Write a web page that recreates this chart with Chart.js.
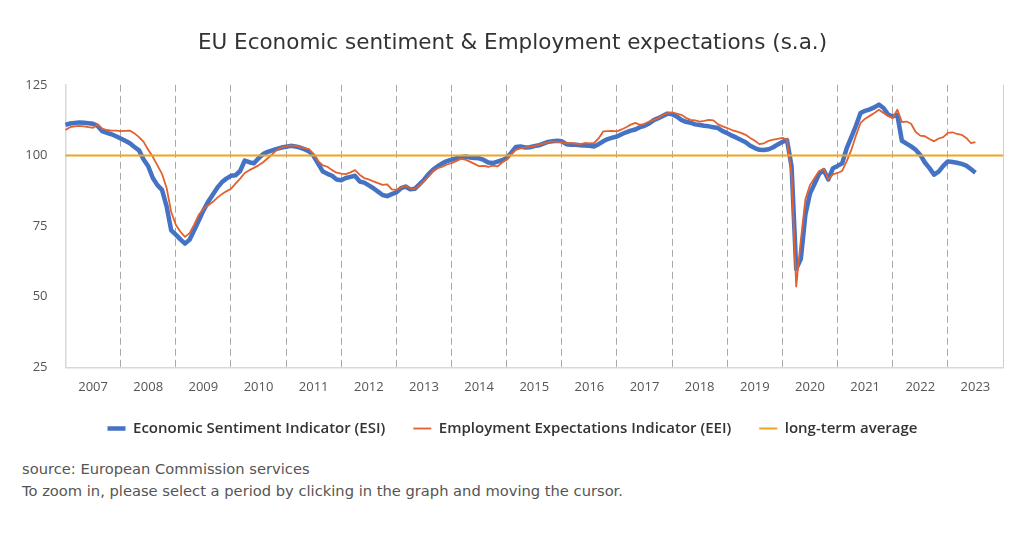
<!DOCTYPE html>
<html>
<head>
<meta charset="utf-8">
<script src="https://cdn.jsdelivr.net/npm/chart.js@4.4.0/dist/chart.umd.min.js"></script>
<style>
  body { margin: 0; background: #fff; }
  #wrap { position: relative; width: 1024px; height: 541px; }
  #box { position: absolute; left: 0; top: 0; width: 1024px; height: 446px; }
  #note { position: absolute; left: 22px; top: 458px; font: 14.7px "DejaVu Sans", sans-serif; color: #555; line-height: 22px; }
</style>
</head>
<body>
<div id="wrap">
  <div id="box"><canvas id="myChart"></canvas></div>
  <div id="note">source: European Commission services<br>To zoom in, please select a period by clicking in the graph and moving the cursor.</div>
</div>
<script>
// monthly values, Jan 2007 .. Jul 2023
var esi = [
  110.8, 111.3, 111.5, 111.7, 111.6, 111.4, 111.2, 110.4, 108.6, 108.0, 107.5, 106.8,
  106.0, 105.2, 104.3, 103.0, 101.8, 98.6, 96.2, 92.0, 89.5, 87.8, 82.0, 73.5,
  72.0, 70.3, 68.8, 70.2, 73.5, 77.0, 80.5, 83.5, 86.0, 88.5, 90.5, 91.8,
  92.8, 93.0, 94.5, 98.2, 97.6, 97.2, 99.0, 100.5, 101.3, 101.8, 102.3, 102.8,
  103.1, 103.4, 103.2, 102.8, 102.2, 101.4, 99.8, 97.0, 94.3, 93.5, 92.8, 91.5,
  91.2, 92.0, 92.4, 92.8, 90.8, 90.4, 89.4, 88.4, 87.2, 86.0, 85.6, 86.3,
  86.9, 88.4, 89.0, 88.0, 88.2, 89.8, 91.4, 93.4, 95.0, 96.2, 97.2, 98.0,
  98.5, 99.0, 99.4, 99.6, 99.3, 99.1, 99.0, 98.4, 97.5, 97.3, 97.8, 98.3,
  99.1, 101.0, 103.0, 103.2, 102.8, 102.9, 103.3, 103.6, 104.2, 104.8, 105.0, 105.2,
  105.0, 104.0, 103.8, 103.8, 103.6, 103.5, 103.4, 103.2, 104.0, 105.0, 105.8, 106.3,
  106.7, 107.5, 108.2, 108.8, 109.2, 110.0, 110.5, 111.3, 112.5, 113.2, 114.0, 114.8,
  114.6, 113.8, 112.6, 111.9, 111.6, 111.0, 110.8, 110.5, 110.3, 110.0, 109.7, 108.6,
  107.9, 107.0, 106.3, 105.5, 104.7, 103.4, 102.6, 102.0, 101.9, 102.2, 102.9, 103.9,
  104.8, 105.4, 96.0, 59.8, 63.3, 79.0, 86.5, 90.0, 93.5, 94.8, 91.5, 95.5,
  96.3, 97.2, 102.6, 106.5, 110.5, 115.0, 115.8, 116.3, 117.0, 118.0, 116.8, 114.5,
  113.8, 114.4, 105.2, 104.2, 103.2, 102.0, 100.2, 97.5, 95.5, 93.2, 94.3, 96.3,
  97.9, 97.7, 97.4, 97.0, 96.4, 95.2, 93.9
];
var eei = [
  109.0, 110.0, 110.3, 110.5, 110.3, 110.0, 109.8, 111.0, 109.5, 109.0, 108.8, 108.8,
  108.6, 108.7, 108.8, 107.8, 106.5, 104.8, 102.0, 99.5, 96.5, 93.5, 88.5, 80.0,
  75.5, 73.0, 71.2, 72.5, 75.5, 79.0, 81.0, 82.3, 83.5, 85.0, 86.3, 87.3,
  88.2, 90.0, 91.8, 93.8, 94.8, 95.6, 96.5, 97.6, 99.0, 100.5, 102.0, 102.8,
  103.2, 103.6, 103.4, 103.0, 102.6, 102.2, 100.5, 98.0, 96.5, 96.0, 94.8, 93.9,
  93.6, 93.4, 94.0, 94.8, 93.2, 92.0, 91.5, 90.8, 90.2, 89.6, 89.8, 88.0,
  87.8, 88.6, 89.2, 88.4, 88.1, 89.5, 91.0, 92.5, 94.5, 95.5, 96.0, 96.8,
  97.3, 98.0, 98.8, 98.5, 97.8, 97.0, 96.2, 96.3, 96.0, 96.4, 96.1, 97.5,
  98.5, 100.5, 102.0, 102.5, 102.8, 103.0, 103.3, 103.8, 104.2, 104.6, 105.0, 104.8,
  104.6, 104.3, 104.4, 104.2, 104.0, 104.4, 104.3, 104.4, 106.0, 108.5, 108.6, 108.7,
  108.5, 109.2, 110.0, 110.9, 111.5, 110.8, 111.2, 112.0, 112.6, 113.2, 114.3, 115.0,
  115.2, 114.8, 114.4, 113.3, 112.6, 112.4, 112.0, 112.2, 112.6, 112.4, 111.0, 110.3,
  109.7, 109.0, 108.5, 108.0, 107.3, 106.2, 105.2, 104.0, 104.3, 105.2, 105.6, 105.9,
  106.2, 105.6, 93.0, 53.6, 70.0, 84.5, 89.5, 92.0, 94.5, 95.3, 91.5, 93.3,
  93.8, 94.5, 98.0, 102.0, 107.0, 111.5, 113.0, 114.0, 115.0, 116.2, 115.0, 114.0,
  113.2, 116.2, 111.8, 112.0, 111.2, 108.3, 107.0, 106.8, 105.8, 105.0, 106.0, 106.5,
  108.0, 108.2, 107.6, 107.3, 106.2, 104.4, 104.7
];
var longTermAvg = 100;
var firstYear = 2007;
var lastYear = 2023;
var yTicks = [25, 50, 75, 100, 125];

// one label per month, Jan 2007 .. Jan 2024 (last one is the right edge)
var monthLabels = [];
for (var y = firstYear; y <= lastYear; y++) {
    for (var m = 1; m <= 12; m++) {
        monthLabels.push(y + '-' + (m < 10 ? '0' + m : m));
    }
}
monthLabels.push((lastYear + 1) + '-01');
var lastIdx = monthLabels.length - 1;

var avgLine = monthLabels.map(function () { return longTermAvg; });

var ctx = document.getElementById("myChart");
var myChart = new Chart(ctx, {
    type: 'line',
    data: {
        labels: monthLabels,
        datasets: [{
            label: 'Economic Sentiment Indicator (ESI)',
            data: esi,
            borderColor: '#4472c4',
            backgroundColor: '#4472c4',
            borderWidth: 4.5,
            order: 2
        },
        {
            label: 'Employment Expectations Indicator (EEI)',
            data: eei,
            borderColor: '#e2612f',
            backgroundColor: '#e2612f',
            borderWidth: 1.8,
            order: 1
        },
        {
            label: 'long-term average',
            data: avgLine,
            borderColor: '#eba520',
            backgroundColor: '#eba520',
            borderWidth: 2,
            order: 0
        }]
    },
    options: {
        responsive: true,
        maintainAspectRatio: false,
        animation: false,
        elements: { point: { radius: 0, hoverRadius: 0 }, line: { tension: 0, borderJoinStyle: 'round' } },
        layout: { padding: { left: 22, right: 21, bottom: 0 } },
        plugins: {
            title: {
                display: true,
                text: 'EU Economic sentiment & Employment expectations (s.a.)',
                color: '#333',
                font: { family: 'DejaVu Sans', size: 21.5, weight: 'normal' },
                padding: { top: 31, bottom: 28 }
            },
            legend: {
                position: 'bottom',
                labels: {
                    usePointStyle: true,
                    pointStyle: 'line',
                    pointStyleWidth: 18,
                    padding: 28,
                    color: '#333',
                    font: { family: 'Open Sans', size: 15, weight: '600' },
                    sort: function (a, b) { return a.datasetIndex - b.datasetIndex; }
                }
            },
            tooltip: { enabled: false }
        },
        scales: {
            x: {
                grid: {
                    drawTicks: false,
                    lineWidth: 1,
                    color: function (c) {
                        if (c.index === 0) return 'rgba(0,0,0,0)';
                        if (c.index === lastIdx) return '#d0d0d0';
                        return c.index % 12 === 0 ? '#a9a9a9' : 'rgba(0,0,0,0)';
                    }
                },
                border: {
                    color: '#d8d8d8',
                    width: 1.5,
                    dash: function (c) {
                        return (c.index === undefined || c.index === lastIdx) ? [] : [7, 4];
                    }
                },
                afterFit: function (axis) {
                    axis.height -= 14; // pull the legend up closer to the year labels
                },
                ticks: {
                    autoSkip: false,
                    maxRotation: 0,
                    padding: 12,
                    color: '#555',
                    font: { family: 'Open Sans', size: 13 },
                    callback: function (val, i) {
                        // year label in the middle of each year
                        return i % 12 === 6 ? String(firstYear + Math.floor(i / 12)) : '';
                    }
                }
            },
            y: {
                min: yTicks[0],
                max: yTicks[yTicks.length - 1],
                grid: { display: false, drawTicks: false },
                border: { color: '#d8d8d8', width: 1.5 },
                afterBuildTicks: function (axis) {
                    axis.ticks = yTicks.map(function (v) { return { value: v }; });
                },
                afterFit: function (axis) {
                    axis.width = 43.5;
                },
                ticks: {
                    padding: 18,
                    color: '#555',
                    font: { family: 'Open Sans', size: 13 }
                }
            }
        }
    }
});
</script>
</body>
</html>
